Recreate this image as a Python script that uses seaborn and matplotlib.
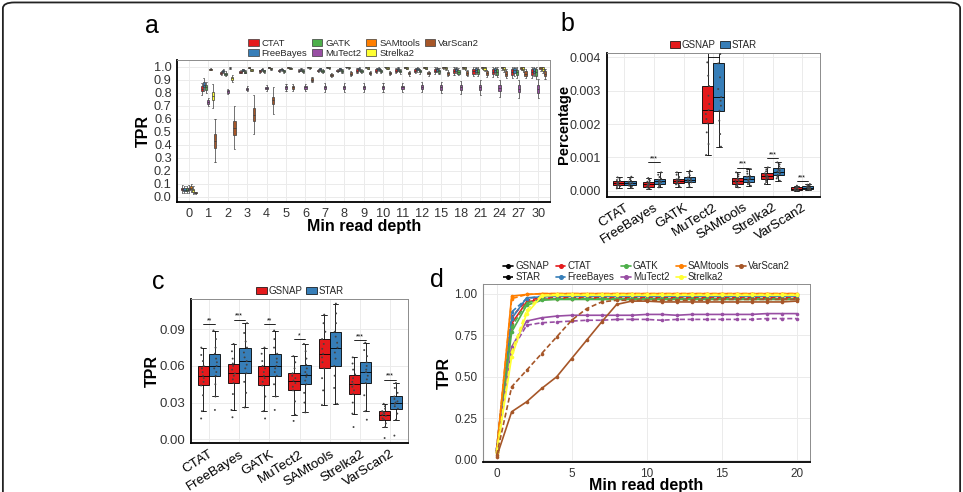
import numpy as np
import pandas as pd
import seaborn as sns
import matplotlib.pyplot as plt
from matplotlib.patches import Patch, FancyBboxPatch
from matplotlib.lines import Line2D
from matplotlib.ticker import FormatStrFormatter

sns.set_style("white")
plt.rcParams["font.family"] = ["Liberation Sans", "DejaVu Sans"]

callers = ["CTAT", "FreeBayes", "GATK", "MuTect2", "SAMtools", "Strelka2", "VarScan2"]
caller_colors = ["#E41A1C", "#377EB8", "#4DAF4A", "#984EA3", "#FF7F00", "#FFFF33", "#A65628"]
aligners = ["GSNAP", "STAR"]
aligner_colors = ["#E41A1C", "#377EB8"]

# ---- panel a: TPR by min read depth (median, half box height, half whisker length)
depth_labels = ["0", "1", "2", "3", "4", "5", "6", "7", "8", "9", "10", "11", "12",
                "15", "18", "21", "24", "27", "30"]

a_ctat_med = [0.060, 0.830, 0.950, 0.960, 0.965, 0.970, 0.970, 0.970, 0.970, 0.970, 0.970, 0.970, 0.970, 0.970, 0.965, 0.965, 0.960, 0.960, 0.960]
a_ctat_box = [0.010, 0.020, 0.008, 0.006, 0.006, 0.006, 0.006, 0.007, 0.007, 0.008, 0.008, 0.009, 0.010, 0.012, 0.015, 0.018, 0.020, 0.022, 0.024]
a_ctat_whisk = [0.030, 0.045, 0.018, 0.012, 0.012, 0.012, 0.013, 0.014, 0.015, 0.016, 0.017, 0.018, 0.020, 0.024, 0.030, 0.036, 0.040, 0.045, 0.050]

a_freebayes_med = [0.055, 0.860, 0.965, 0.975, 0.980, 0.980, 0.980, 0.980, 0.980, 0.980, 0.980, 0.980, 0.980, 0.980, 0.978, 0.975, 0.975, 0.972, 0.970]
a_freebayes_box = [0.010, 0.020, 0.006, 0.005, 0.005, 0.005, 0.005, 0.006, 0.006, 0.007, 0.007, 0.008, 0.009, 0.010, 0.012, 0.015, 0.018, 0.020, 0.022]
a_freebayes_whisk = [0.030, 0.050, 0.015, 0.010, 0.010, 0.010, 0.011, 0.012, 0.013, 0.014, 0.015, 0.016, 0.018, 0.022, 0.028, 0.034, 0.038, 0.042, 0.046]

a_gatk_med = [0.055, 0.840, 0.945, 0.960, 0.965, 0.965, 0.965, 0.965, 0.965, 0.965, 0.965, 0.965, 0.965, 0.965, 0.962, 0.960, 0.958, 0.955, 0.955]
a_gatk_box = [0.010, 0.020, 0.008, 0.006, 0.006, 0.006, 0.006, 0.007, 0.007, 0.008, 0.008, 0.009, 0.010, 0.012, 0.015, 0.018, 0.020, 0.022, 0.024]
a_gatk_whisk = [0.030, 0.045, 0.018, 0.012, 0.012, 0.012, 0.013, 0.014, 0.015, 0.016, 0.017, 0.018, 0.020, 0.024, 0.030, 0.036, 0.040, 0.045, 0.050]

a_mutect2_med = [0.060, 0.730, 0.810, 0.830, 0.835, 0.840, 0.840, 0.840, 0.840, 0.840, 0.840, 0.840, 0.840, 0.840, 0.840, 0.840, 0.835, 0.830, 0.830]
a_mutect2_box = [0.010, 0.015, 0.010, 0.008, 0.008, 0.010, 0.010, 0.012, 0.012, 0.013, 0.013, 0.014, 0.015, 0.017, 0.020, 0.022, 0.025, 0.027, 0.030]
a_mutect2_whisk = [0.030, 0.030, 0.020, 0.020, 0.025, 0.030, 0.030, 0.032, 0.032, 0.033, 0.035, 0.036, 0.038, 0.042, 0.048, 0.055, 0.065, 0.070, 0.075]

a_samtools_med = [0.070, 0.980, 0.990, 0.993, 0.995, 0.996, 0.997, 0.997, 0.997, 0.997, 0.997, 0.997, 0.997, 0.997, 0.996, 0.995, 0.994, 0.993, 0.992]
a_samtools_box = [0.010, 0.003, 0.003, 0.003, 0.003, 0.003, 0.003, 0.003, 0.003, 0.003, 0.003, 0.004, 0.004, 0.005, 0.006, 0.007, 0.008, 0.009, 0.010]
a_samtools_whisk = [0.030, 0.006, 0.006, 0.006, 0.006, 0.006, 0.006, 0.007, 0.007, 0.008, 0.008, 0.009, 0.010, 0.012, 0.014, 0.016, 0.018, 0.020, 0.022]

a_strelka2_med = [0.050, 0.775, 0.910, 0.975, 0.985, 0.988, 0.990, 0.990, 0.990, 0.990, 0.990, 0.990, 0.990, 0.990, 0.988, 0.986, 0.985, 0.984, 0.982]
a_strelka2_box = [0.010, 0.030, 0.010, 0.005, 0.004, 0.004, 0.004, 0.004, 0.004, 0.005, 0.005, 0.005, 0.006, 0.007, 0.008, 0.010, 0.012, 0.013, 0.015]
a_strelka2_whisk = [0.030, 0.090, 0.025, 0.010, 0.008, 0.008, 0.008, 0.008, 0.009, 0.010, 0.010, 0.011, 0.012, 0.014, 0.017, 0.020, 0.024, 0.027, 0.030]

a_varscan2_med = [0.030, 0.430, 0.530, 0.630, 0.740, 0.840, 0.900, 0.935, 0.945, 0.950, 0.950, 0.950, 0.950, 0.950, 0.950, 0.948, 0.946, 0.945, 0.945]
a_varscan2_box = [0.005, 0.055, 0.055, 0.050, 0.030, 0.012, 0.010, 0.010, 0.010, 0.010, 0.010, 0.010, 0.010, 0.012, 0.013, 0.015, 0.017, 0.018, 0.020]
a_varscan2_whisk = [0.010, 0.165, 0.165, 0.150, 0.105, 0.030, 0.020, 0.018, 0.018, 0.018, 0.018, 0.019, 0.020, 0.022, 0.025, 0.028, 0.032, 0.035, 0.038]

# ---- panel b: percentage (values in units of 1e-4)
b_ctat_gsnap = [0.7, 1.1, 1.4, 1.6, 1.8, 2.0, 2.2, 2.4, 2.6, 2.9, 3.2, 3.6, 4.0]
b_ctat_star = [0.8, 1.2, 1.5, 1.7, 1.9, 2.1, 2.3, 2.5, 2.7, 3.0, 3.4, 3.8, 4.2]
b_freebayes_gsnap = [0.5, 0.8, 1.0, 1.2, 1.4, 1.7, 1.9, 2.1, 2.4, 2.7, 3.0, 3.4, 3.8]
b_freebayes_star = [1.0, 1.4, 1.7, 2.0, 2.3, 2.6, 2.8, 3.0, 3.3, 3.6, 4.1, 4.8, 5.5]
b_gatk_gsnap = [1.2, 1.6, 1.9, 2.2, 2.5, 2.8, 3.0, 3.2, 3.4, 3.6, 4.1, 4.8, 5.5]
b_gatk_star = [1.2, 1.8, 2.2, 2.5, 2.8, 3.0, 3.2, 3.5, 3.7, 4.0, 4.6, 5.3, 6.0]
b_mutect2_gsnap = [10.7, 14.0, 17.5, 20.2, 21.5, 23.0, 24.2, 26.0, 28.5, 31.4, 34.5, 38.5, 44.0]
b_mutect2_star = [13.2, 17.0, 21.0, 24.0, 25.5, 27.0, 28.1, 30.5, 34.0, 38.2, 41.0, 44.0, 48.0]
b_samtools_gsnap = [1.0, 1.4, 1.7, 2.0, 2.3, 2.6, 2.9, 3.1, 3.4, 3.7, 4.3, 4.9, 5.5]
b_samtools_star = [1.5, 2.0, 2.4, 2.7, 3.0, 3.3, 3.6, 3.9, 4.2, 4.5, 5.1, 5.8, 6.5]
b_strelka2_gsnap = [2.0, 2.6, 3.1, 3.5, 3.8, 4.1, 4.4, 4.7, 4.9, 5.2, 5.8, 6.4, 7.0]
b_strelka2_star = [3.0, 3.7, 4.2, 4.7, 5.1, 5.4, 5.7, 6.0, 6.3, 6.7, 7.3, 7.9, 8.5]
b_varscan2_gsnap = [0.0, 0.1, 0.2, 0.2, 0.4, 0.5, 0.6, 0.7, 0.8, 1.0, 1.1, 1.3, 1.5]
b_varscan2_star = [0.2, 0.4, 0.5, 0.6, 0.7, 0.8, 0.9, 1.0, 1.2, 1.4, 1.6, 1.8, 2.0]
b_sig_callers = ["FreeBayes", "MuTect2", "SAMtools", "Strelka2", "VarScan2"]
b_sig_labels = ["***", "**", "***", "***", "***"]
b_sig_heights = [8.5, 40.2, 6.9, 9.8, 2.8]

# ---- panel c: TPR per caller and aligner
c_ctat_gsnap = [0.017, 0.023, 0.036, 0.044, 0.047, 0.050, 0.052, 0.055, 0.058, 0.060, 0.064, 0.069, 0.075]
c_ctat_star = [0.024, 0.035, 0.045, 0.052, 0.055, 0.058, 0.060, 0.063, 0.066, 0.070, 0.075, 0.082, 0.089]
c_freebayes_gsnap = [0.018, 0.024, 0.037, 0.046, 0.049, 0.052, 0.054, 0.057, 0.060, 0.062, 0.066, 0.072, 0.078]
c_freebayes_star = [0.026, 0.038, 0.047, 0.054, 0.058, 0.061, 0.064, 0.067, 0.071, 0.075, 0.080, 0.087, 0.095]
c_gatk_gsnap = [0.017, 0.023, 0.035, 0.044, 0.047, 0.050, 0.052, 0.055, 0.058, 0.060, 0.064, 0.070, 0.075]
c_gatk_star = [0.024, 0.035, 0.045, 0.052, 0.055, 0.058, 0.060, 0.063, 0.066, 0.070, 0.075, 0.082, 0.089]
c_mutect2_gsnap = [0.015, 0.020, 0.031, 0.040, 0.043, 0.046, 0.048, 0.050, 0.052, 0.054, 0.058, 0.063, 0.068]
c_mutect2_star = [0.022, 0.030, 0.038, 0.045, 0.048, 0.051, 0.053, 0.055, 0.058, 0.061, 0.066, 0.072, 0.078]
c_samtools_gsnap = [0.028, 0.040, 0.050, 0.058, 0.063, 0.067, 0.070, 0.074, 0.078, 0.082, 0.088, 0.095, 0.102]
c_samtools_star = [0.029, 0.042, 0.052, 0.060, 0.066, 0.071, 0.075, 0.079, 0.084, 0.088, 0.095, 0.103, 0.111]
c_strelka2_gsnap = [0.010, 0.021, 0.030, 0.037, 0.040, 0.043, 0.045, 0.047, 0.050, 0.053, 0.057, 0.062, 0.067]
c_strelka2_star = [0.016, 0.023, 0.036, 0.046, 0.049, 0.052, 0.055, 0.057, 0.060, 0.063, 0.068, 0.073, 0.079]
c_varscan2_gsnap = [0.001, 0.010, 0.013, 0.016, 0.017, 0.019, 0.020, 0.021, 0.022, 0.023, 0.025, 0.027, 0.029]
c_varscan2_star = [0.003, 0.016, 0.021, 0.025, 0.027, 0.029, 0.030, 0.031, 0.033, 0.035, 0.038, 0.042, 0.046]
c_sig_callers = ["CTAT", "FreeBayes", "GATK", "MuTect2", "Strelka2", "VarScan2"]
c_sig_labels = ["**", "***", "**", "*", "***", "***"]
c_sig_heights = [0.094, 0.098, 0.094, 0.082, 0.081, 0.0486]

# ---- panel d: TPR curves vs min read depth
d_depth = [0, 1, 2, 3, 4, 5, 6, 7, 8, 9, 10, 11, 12, 13, 14, 15, 16, 17, 18, 19, 20]
d_ctat_gsnap = [0.06, 0.82, 0.95, 0.965, 0.97, 0.97, 0.97, 0.97, 0.97, 0.97, 0.97, 0.97, 0.97, 0.97, 0.97, 0.97, 0.97, 0.97, 0.97, 0.97, 0.97]
d_ctat_star = [0.07, 0.86, 0.96, 0.975, 0.975, 0.975, 0.975, 0.975, 0.975, 0.975, 0.975, 0.975, 0.975, 0.975, 0.975, 0.975, 0.975, 0.975, 0.975, 0.975, 0.975]
d_freebayes_gsnap = [0.06, 0.85, 0.975, 0.98, 0.985, 0.985, 0.985, 0.985, 0.985, 0.985, 0.985, 0.985, 0.985, 0.985, 0.985, 0.985, 0.985, 0.985, 0.985, 0.985, 0.985]
d_freebayes_star = [0.07, 0.89, 0.97, 0.985, 0.99, 0.99, 0.99, 0.99, 0.99, 0.99, 0.99, 0.99, 0.99, 0.99, 0.99, 0.99, 0.99, 0.99, 0.99, 0.99, 0.99]
d_gatk_gsnap = [0.05, 0.77, 0.93, 0.96, 0.965, 0.965, 0.965, 0.965, 0.965, 0.965, 0.965, 0.965, 0.965, 0.965, 0.965, 0.965, 0.965, 0.965, 0.965, 0.965, 0.965]
d_gatk_star = [0.06, 0.80, 0.945, 0.965, 0.97, 0.97, 0.97, 0.97, 0.97, 0.97, 0.97, 0.97, 0.97, 0.97, 0.97, 0.97, 0.97, 0.97, 0.97, 0.97, 0.97]
d_mutect2_gsnap = [0.05, 0.68, 0.835, 0.855, 0.865, 0.87, 0.87, 0.87, 0.87, 0.87, 0.875, 0.875, 0.87, 0.875, 0.875, 0.875, 0.875, 0.875, 0.88, 0.88, 0.88]
d_mutect2_star = [0.06, 0.66, 0.81, 0.825, 0.83, 0.835, 0.84, 0.84, 0.845, 0.845, 0.845, 0.84, 0.845, 0.845, 0.845, 0.845, 0.845, 0.845, 0.85, 0.85, 0.85]
d_samtools_gsnap = [0.05, 0.985, 0.995, 1.0, 1.0, 1.0, 1.0, 1.0, 1.0, 1.0, 1.0, 1.0, 1.0, 1.0, 1.0, 1.0, 1.0, 1.0, 1.0, 1.0, 1.0]
d_samtools_star = [0.06, 0.97, 0.995, 1.0, 1.0, 1.0, 1.0, 1.0, 1.0, 1.0, 1.0, 1.0, 1.0, 1.0, 1.0, 1.0, 1.0, 1.0, 1.0, 1.0, 1.0]
d_strelka2_gsnap = [0.04, 0.62, 0.88, 0.985, 0.99, 0.99, 0.99, 0.99, 0.99, 0.99, 0.99, 0.99, 0.99, 0.99, 0.99, 0.99, 0.99, 0.99, 0.99, 0.99, 0.99]
d_strelka2_star = [0.05, 0.65, 0.90, 0.99, 0.995, 0.995, 0.995, 0.995, 0.995, 0.995, 0.995, 0.995, 0.995, 0.995, 0.995, 0.995, 0.995, 0.995, 0.995, 0.995, 0.995]
d_varscan2_gsnap = [0.02, 0.29, 0.35, 0.43, 0.50, 0.61, 0.72, 0.83, 0.935, 0.955, 0.955, 0.95, 0.95, 0.95, 0.95, 0.95, 0.95, 0.95, 0.95, 0.95, 0.955]
d_varscan2_star = [0.03, 0.44, 0.54, 0.64, 0.74, 0.84, 0.91, 0.95, 0.96, 0.96, 0.96, 0.96, 0.96, 0.96, 0.96, 0.965, 0.965, 0.965, 0.965, 0.965, 0.965]

# ---------------------------------------------------------------- data frames
a_meds = [a_ctat_med, a_freebayes_med, a_gatk_med, a_mutect2_med, a_samtools_med, a_strelka2_med, a_varscan2_med]
a_boxes = [a_ctat_box, a_freebayes_box, a_gatk_box, a_mutect2_box, a_samtools_box, a_strelka2_box, a_varscan2_box]
a_whisks = [a_ctat_whisk, a_freebayes_whisk, a_gatk_whisk, a_mutect2_whisk, a_samtools_whisk, a_strelka2_whisk, a_varscan2_whisk]
rows = []
for caller, meds, boxes, whisks in zip(callers, a_meds, a_boxes, a_whisks):
    for d, m, b, w in zip(depth_labels, meds, boxes, whisks):
        # five-number summary -> boxplot input
        for v in (m - w, m - b, m, m + b, m + w):
            rows.append((d, caller, min(v, 1.0)))
df_a = pd.DataFrame(rows, columns=["depth", "caller", "TPR"])

b_sets = [(b_ctat_gsnap, b_ctat_star), (b_freebayes_gsnap, b_freebayes_star), (b_gatk_gsnap, b_gatk_star),
          (b_mutect2_gsnap, b_mutect2_star), (b_samtools_gsnap, b_samtools_star),
          (b_strelka2_gsnap, b_strelka2_star), (b_varscan2_gsnap, b_varscan2_star)]
c_sets = [(c_ctat_gsnap, c_ctat_star), (c_freebayes_gsnap, c_freebayes_star), (c_gatk_gsnap, c_gatk_star),
          (c_mutect2_gsnap, c_mutect2_star), (c_samtools_gsnap, c_samtools_star),
          (c_strelka2_gsnap, c_strelka2_star), (c_varscan2_gsnap, c_varscan2_star)]


def long_table(sets, scale=1.0):
    out = []
    for caller, pair in zip(callers, sets):
        for aligner, vals in zip(aligners, pair):
            for v in vals:
                out.append((caller, aligner, v * scale))
    return pd.DataFrame(out, columns=["caller", "aligner", "value"])


df_b = long_table(b_sets, 1e-4)
df_c = long_table(c_sets)

d_sets = [(d_ctat_gsnap, d_ctat_star), (d_freebayes_gsnap, d_freebayes_star), (d_gatk_gsnap, d_gatk_star),
          (d_mutect2_gsnap, d_mutect2_star), (d_samtools_gsnap, d_samtools_star),
          (d_strelka2_gsnap, d_strelka2_star), (d_varscan2_gsnap, d_varscan2_star)]
rows = []
for caller, pair in zip(callers, d_sets):
    for aligner, vals in zip(aligners, pair):
        for x, v in zip(d_depth, vals):
            rows.append((x, caller, aligner, v))
df_d = pd.DataFrame(rows, columns=["depth", "caller", "aligner", "TPR"])

# ---------------------------------------------------------------- figure
fig = plt.figure(figsize=(9.63, 4.92), dpi=100)
TXT = "#333333"


def gg_style(ax, left_black=True):
    ax.set_facecolor("white")
    ax.grid(True, color="#EBEBEB", lw=0.7)
    ax.set_axisbelow(True)
    for s in ["top", "right"]:
        ax.spines[s].set_color("#8C8C8C")
        ax.spines[s].set_linewidth(0.7)
    ax.spines["bottom"].set_color("black")
    ax.spines["bottom"].set_linewidth(1.3)
    ax.spines["left"].set_color("black" if left_black else "#8C8C8C")
    ax.spines["left"].set_linewidth(1.3 if left_black else 0.8)
    ax.tick_params(axis="both", colors=TXT, length=2.5, width=0.6, pad=1.5)


# panel a
ax_a = fig.add_axes([0.1841, 0.5888, 0.3870, 0.2893])
sns.boxplot(data=df_a, x="depth", y="TPR", hue="caller", order=depth_labels, hue_order=callers,
            palette=caller_colors, saturation=1, width=0.8, whis=(0, 100), linewidth=0.5,
            linecolor="#3A3A3A", fliersize=0, legend=False, ax=ax_a)
gg_style(ax_a)
ax_a.set_ylim(-0.043, 1.051)
ax_a.set_xlim(-0.6, 18.6)
ax_a.set_yticks(np.arange(0, 1.01, 0.1))
ax_a.yaxis.set_major_formatter(FormatStrFormatter("%.1f"))
ax_a.tick_params(labelsize=9.2)
ax_a.set_ylabel("TPR", fontsize=11.5, fontweight="bold", color="black")
ax_a.yaxis.set_label_coords(-0.07, 0.5)
ax_a.set_xlabel("Min read depth", fontsize=11.5, fontweight="bold", color="black")
ax_a.xaxis.set_label_coords(0.5, -0.12)
handles_a = [Patch(facecolor=c, edgecolor="#3A3A3A", lw=0.5) for c in caller_colors]
ax_a.legend(handles_a, callers, ncol=4, loc="lower center", bbox_to_anchor=(0.5, 1.0),
            frameon=False, fontsize=6.8, handlelength=1.1, handleheight=0.8, handletextpad=0.3,
            columnspacing=0.5, labelspacing=0.15, borderaxespad=0.1, borderpad=0.1)


def pair_panel(ax, df, sig_callers, sig_labels, sig_heights):
    sns.boxplot(data=df, x="caller", y="value", hue="aligner", order=callers, hue_order=aligners,
                palette=aligner_colors, saturation=1, width=0.75, showfliers=False,
                linewidth=0.6, linecolor="black", legend=False, ax=ax)
    sns.stripplot(data=df, x="caller", y="value", hue="aligner", order=callers, hue_order=aligners,
                  palette=["#444444", "#444444"], dodge=True, jitter=0.13, size=1.4,
                  legend=False, ax=ax)
    for name, lab, h in zip(sig_callers, sig_labels, sig_heights):
        i = callers.index(name)
        ax.plot([i - 0.19, i + 0.19], [h, h], color="black", lw=0.6)
        ax.text(i, h, lab, ha="center", va="bottom", fontsize=5, color="black", clip_on=True)
    gg_style(ax)
    ax.set_xlim(-0.6, 6.6)
    ax.set_xlabel("")
    ax.tick_params(axis="x", pad=1)
    for t in ax.get_xticklabels():
        t.set_rotation(32)
        t.set_ha("right")
        t.set_rotation_mode("anchor")
        t.set_fontsize(9.6)
        t.set_color("black")
    ax.tick_params(axis="y", labelsize=9)
    handles = [Patch(facecolor=c, edgecolor="black", lw=0.5) for c in aligner_colors]
    ax.legend(handles, aligners, ncol=2, loc="lower center", bbox_to_anchor=(0.5, 1.0),
              frameon=False, fontsize=7, handlelength=1.1, handleheight=0.8, handletextpad=0.15,
              columnspacing=0.4, borderaxespad=0.2, borderpad=0.1)


# panel b
ax_b = fig.add_axes([0.6300, 0.6002, 0.2215, 0.2927])
pair_panel(ax_b, df_b, b_sig_callers, b_sig_labels, [h * 1e-4 for h in b_sig_heights])
ax_b.set_ylim(-0.00018, 0.00414)
ax_b.set_yticks([0, 0.001, 0.002, 0.003, 0.004])
ax_b.yaxis.set_major_formatter(FormatStrFormatter("%.3f"))
ax_b.set_ylabel("Percentage", fontsize=10.5, fontweight="bold", color="black")
ax_b.yaxis.set_label_coords(-0.167, 0.5)

# panel c
ax_c = fig.add_axes([0.1983, 0.0990, 0.2257, 0.2933])
pair_panel(ax_c, df_c, c_sig_callers, c_sig_labels, c_sig_heights)
ax_c.set_ylim(-0.0033, 0.1148)
ax_c.set_yticks([0, 0.03, 0.06, 0.09])
ax_c.yaxis.set_major_formatter(FormatStrFormatter("%.2f"))
ax_c.tick_params(axis="y", labelsize=9.5)
ax_c.set_ylabel("TPR", fontsize=11.5, fontweight="bold", color="black")
ax_c.yaxis.set_label_coords(-0.143, 0.5)

# panel d
ax_d = fig.add_axes([0.5016, 0.0610, 0.3396, 0.3618])
sns.lineplot(data=df_d, x="depth", y="TPR", hue="caller", style="aligner", hue_order=callers,
             palette=caller_colors, style_order=aligners, dashes={"GSNAP": "", "STAR": (3, 1.6)},
             markers={"GSNAP": "o", "STAR": "o"}, markersize=2.6, markeredgewidth=0,
             linewidth=1.2, legend=False, ax=ax_d)
gg_style(ax_d, left_black=False)
ax_d.set_xlim(-0.91, 20.9)
ax_d.set_ylim(-0.012, 1.058)
ax_d.set_xticks([0, 5, 10, 15, 20])
ax_d.set_yticks([0, 0.25, 0.5, 0.75, 1.0])
ax_d.yaxis.set_major_formatter(FormatStrFormatter("%.2f"))
ax_d.tick_params(labelsize=8.5)
ax_d.set_ylabel("TPR", fontsize=11.5, fontweight="bold", color="black")
ax_d.yaxis.set_label_coords(-0.095, 0.5)
ax_d.set_xlabel("Min read depth", fontsize=11.5, fontweight="bold", color="black")
ax_d.xaxis.set_label_coords(0.5, -0.09)
handles_d = [Line2D([], [], color="black", lw=1.2, marker="o", ms=2.6),
             Line2D([], [], color="black", lw=1.2, ls=(0, (3, 1.6)), marker="o", ms=2.6)]
handles_d += [Line2D([], [], color=c, lw=1.2, marker="o", ms=2.6) for c in caller_colors]
ax_d.legend(handles_d, aligners + callers, ncol=5, loc="lower center", bbox_to_anchor=(0.5, 1.0),
            frameon=False, fontsize=7, handlelength=1.0, handletextpad=0.2, columnspacing=0.7,
            labelspacing=0.1, borderaxespad=0.1, borderpad=0.1)

# panel letters
for lab, x, y in [("a", 0.1506, 0.947), ("b", 0.5815, 0.951), ("c", 0.158, 0.427), ("d", 0.4465, 0.431)]:
    fig.text(x, y, lab, fontsize=18, va="center", ha="left", color="black")

# rounded frame around the figure
frame = FancyBboxPatch((0.003, -0.05), 0.994, 1.045, boxstyle="round,pad=0,rounding_size=0.012",
                       transform=fig.transFigure, fill=False, ec="#222222", lw=1.3)
fig.patches.append(frame)

fig.savefig("out.png", dpi=100)
